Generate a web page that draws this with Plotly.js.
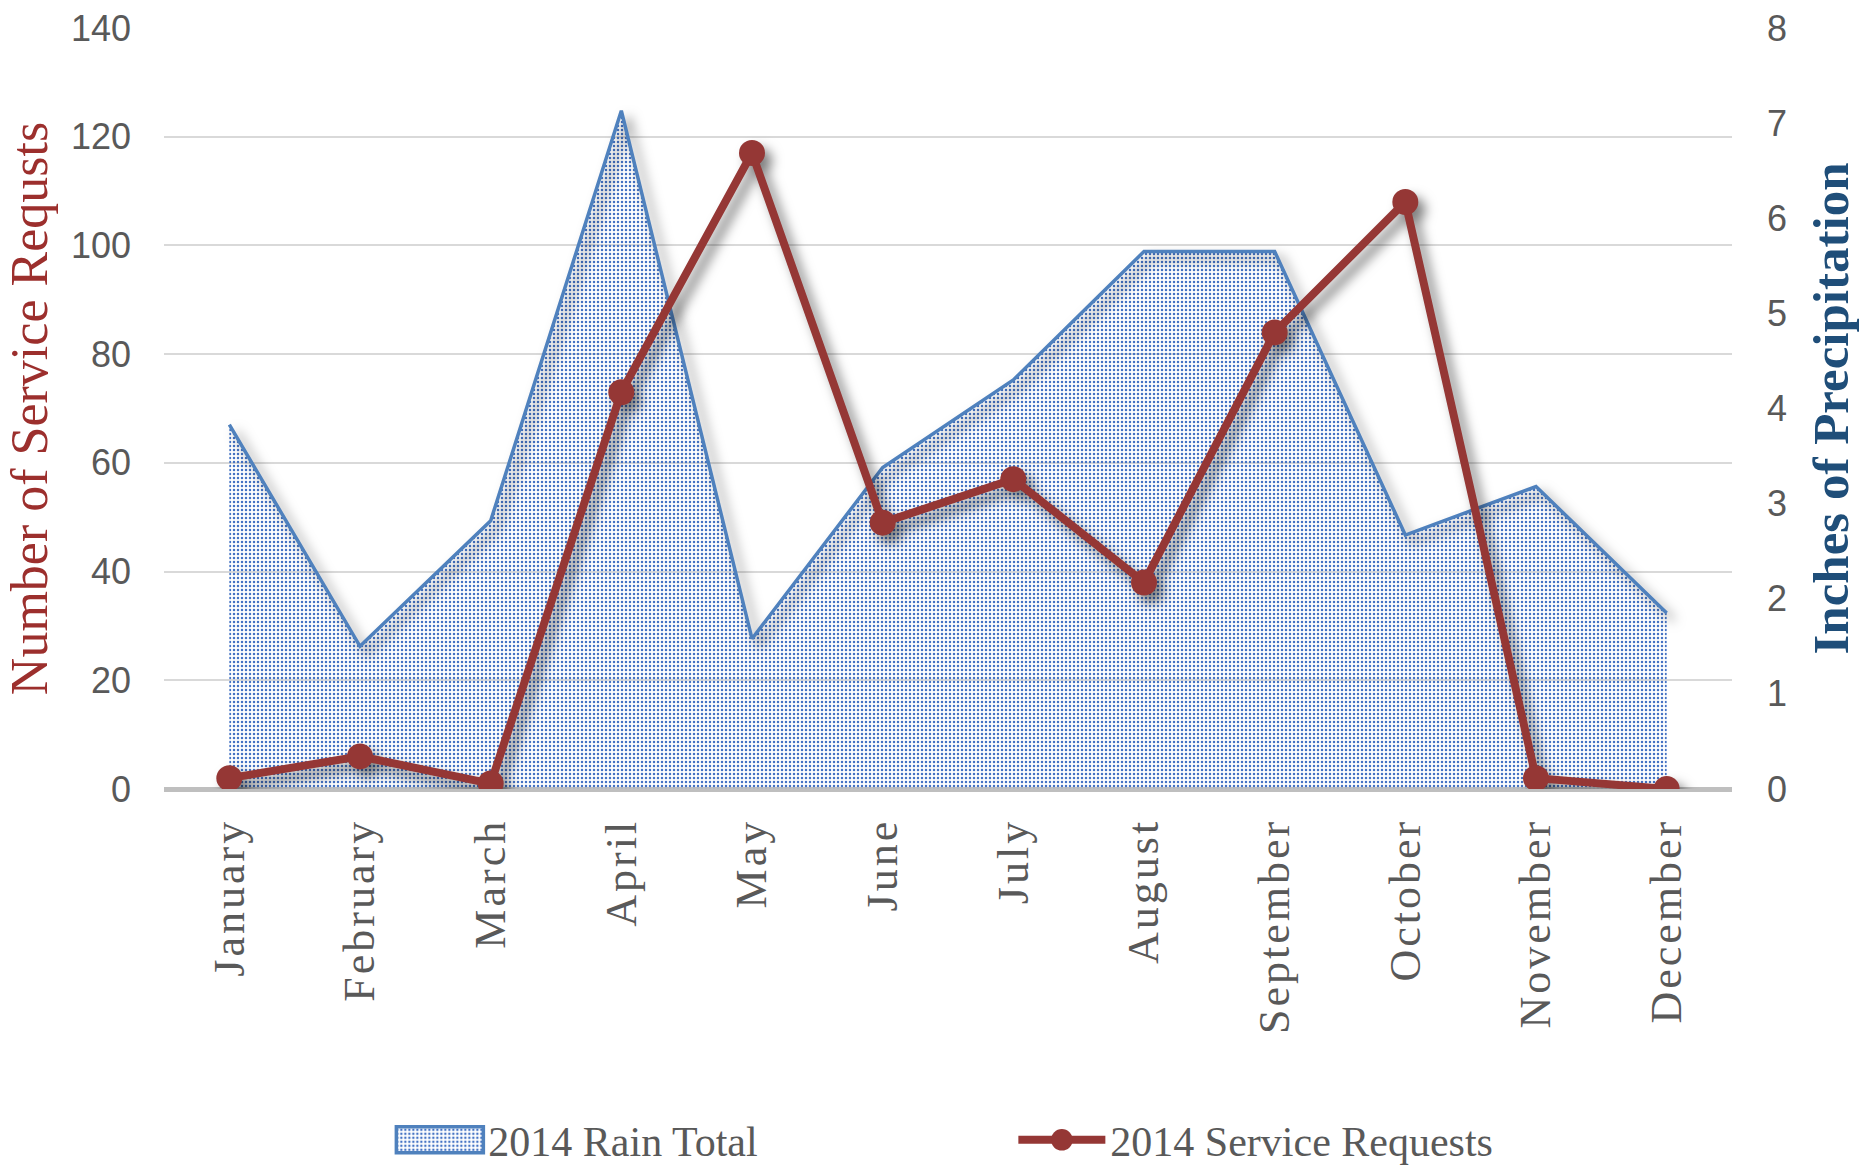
<!DOCTYPE html>
<html>
<head>
<meta charset="utf-8">
<script src="https://cdn.plot.ly/plotly-3.0.1.min.js"></script>
<style>
html,body{margin:0;padding:0;background:#fff;}
#chart{width:1860px;height:1168px;}
</style>
</head>
<body>
<div id="chart"></div>
<script>
// ---- data ----
const months = ["January","February","March","April","May","June","July","August","September","October","November","December"];
const rainTotal2014 = [3.83, 1.50, 2.82, 7.13, 1.58, 3.38, 4.30, 5.65, 5.65, 2.67, 3.18, 1.85];
const serviceRequests2014 = [2, 6, 1, 73, 117, 49, 57, 38, 84, 108, 2, 0];
const leftTicks = [0, 20, 40, 60, 80, 100, 120, 140];
const rightTicks = [0, 1, 2, 3, 4, 5, 6, 7, 8];

const grey = '#595959';
const red = '#953735';
const blue = '#4F81BD';

const rainTrace = {
  type: 'scatter', mode: 'lines', name: '2014 Rain Total',
  x: months, y: rainTotal2014, xaxis: 'x', yaxis: 'y',
  fill: 'tozeroy',
  fillpattern: {shape: '.', fgcolor: '#4472C4', bgcolor: 'rgba(255,255,255,0)', size: 4, solidity: 0.3},
  fillcolor: 'rgba(255,255,255,0)',
  line: {color: blue, width: 3.5}
};
const reqTrace = {
  type: 'scatter', mode: 'lines+markers', name: '2014 Service Requests',
  x: months, y: serviceRequests2014, xaxis: 'x', yaxis: 'y2',
  line: {color: red, width: 8},
  marker: {color: red, size: 26, line: {width: 0}}
};

const layout = {
  width: 1860, height: 1168,
  paper_bgcolor: '#ffffff', plot_bgcolor: '#ffffff',
  margin: {l: 164, r: 128, t: 28, b: 379},
  showlegend: true,
  legend: {
    orientation: 'h', x: 0.145, xanchor: 'left', yref: 'container', y: 0.024, yanchor: 'middle',
    itemwidth: 87, entrywidth: 520, entrywidthmode: 'pixels',
    font: {family: '"Liberation Serif", serif', size: 42, color: grey},
    traceorder: 'normal', bgcolor: 'rgba(0,0,0,0)'
  },
  xaxis: {
    type: 'category', range: [-0.5, 11.5],
    tickangle: -90, ticks: '', ticklabelstandoff: 20,
    tickfont: {family: '"Liberation Serif", serif', size: 44, color: grey},
    showgrid: false, showline: false, zeroline: false, fixedrange: true
  },
  // right axis: precipitation (main, drawn underneath)
  yaxis: {
    side: 'right', range: [0, 8], tickvals: rightTicks, ticktext: rightTicks.map(String),
    ticks: '', ticklabelstandoff: 34,
    tickfont: {family: '"Liberation Sans", sans-serif', size: 36, color: grey},
    showgrid: false, zeroline: false, showline: false,
    title: {text: 'Inches of Precipitation', standoff: 26,
            font: {family: '"Liberation Serif", serif', size: 51, color: '#1F4E79', weight: 'bold'}},
    automargin: false
  },
  // left axis: service requests (overlay, drawn on top)
  yaxis2: {
    overlaying: 'y', side: 'left', range: [0, 140], tickvals: leftTicks, ticktext: leftTicks.map(String),
    ticks: '', ticklabelstandoff: 32,
    tickfont: {family: '"Liberation Sans", sans-serif', size: 36, color: grey},
    showgrid: true, gridcolor: '#D9D9D9', gridwidth: 2,
    zeroline: true, zerolinecolor: '#BFBFBF', zerolinewidth: 5, showline: false,
    title: {text: 'Number of Service Requsts', standoff: 6,
            font: {family: '"Liberation Serif", serif', size: 52, color: '#9C2F2D'}},
    automargin: false
  }
};

Plotly.newPlot('chart', [rainTrace, reqTrace], layout, {staticPlot: true}).then(function(){
  document.querySelectorAll('.xtick text').forEach(function(t){ t.style.letterSpacing = '3px'; });
  const traces = document.querySelectorAll('.scatterlayer .trace');
  traces.forEach(function(tr, i){
    if (i === 0) {
      tr.querySelectorAll('.js-line').forEach(function(p){ p.style.filter = 'drop-shadow(7px 7px 6px rgba(0,0,0,0.5))'; });
    } else {
      tr.style.filter = 'drop-shadow(7px 8px 6px rgba(0,0,0,0.5))';
    }
  });
  const legItems = document.querySelectorAll('.legend .traces');
  if (legItems.length > 1) {
    // area series swatch: patterned box with a blue border
    const a = legItems[0];
    a.querySelectorAll('.legendfill path').forEach(function(p){ p.setAttribute('d', 'M5,-13h87v26h-87z'); });
    a.querySelectorAll('.legendlines path').forEach(function(p){
      p.setAttribute('d', 'M5,-13h87v26h-87z'); p.style.fill = 'none';
    });
    // line series swatch: thicker line and larger marker, as in the reference
    const b = legItems[1];
    b.querySelectorAll('.legendlines path').forEach(function(p){ p.style.strokeWidth = '8px'; });
    b.querySelectorAll('.legendpoints path').forEach(function(p){
      const tf = p.getAttribute('transform') || '';
      p.setAttribute('transform', tf + ' scale(1.35)');
    });
  }
});
</script>
</body>
</html>
